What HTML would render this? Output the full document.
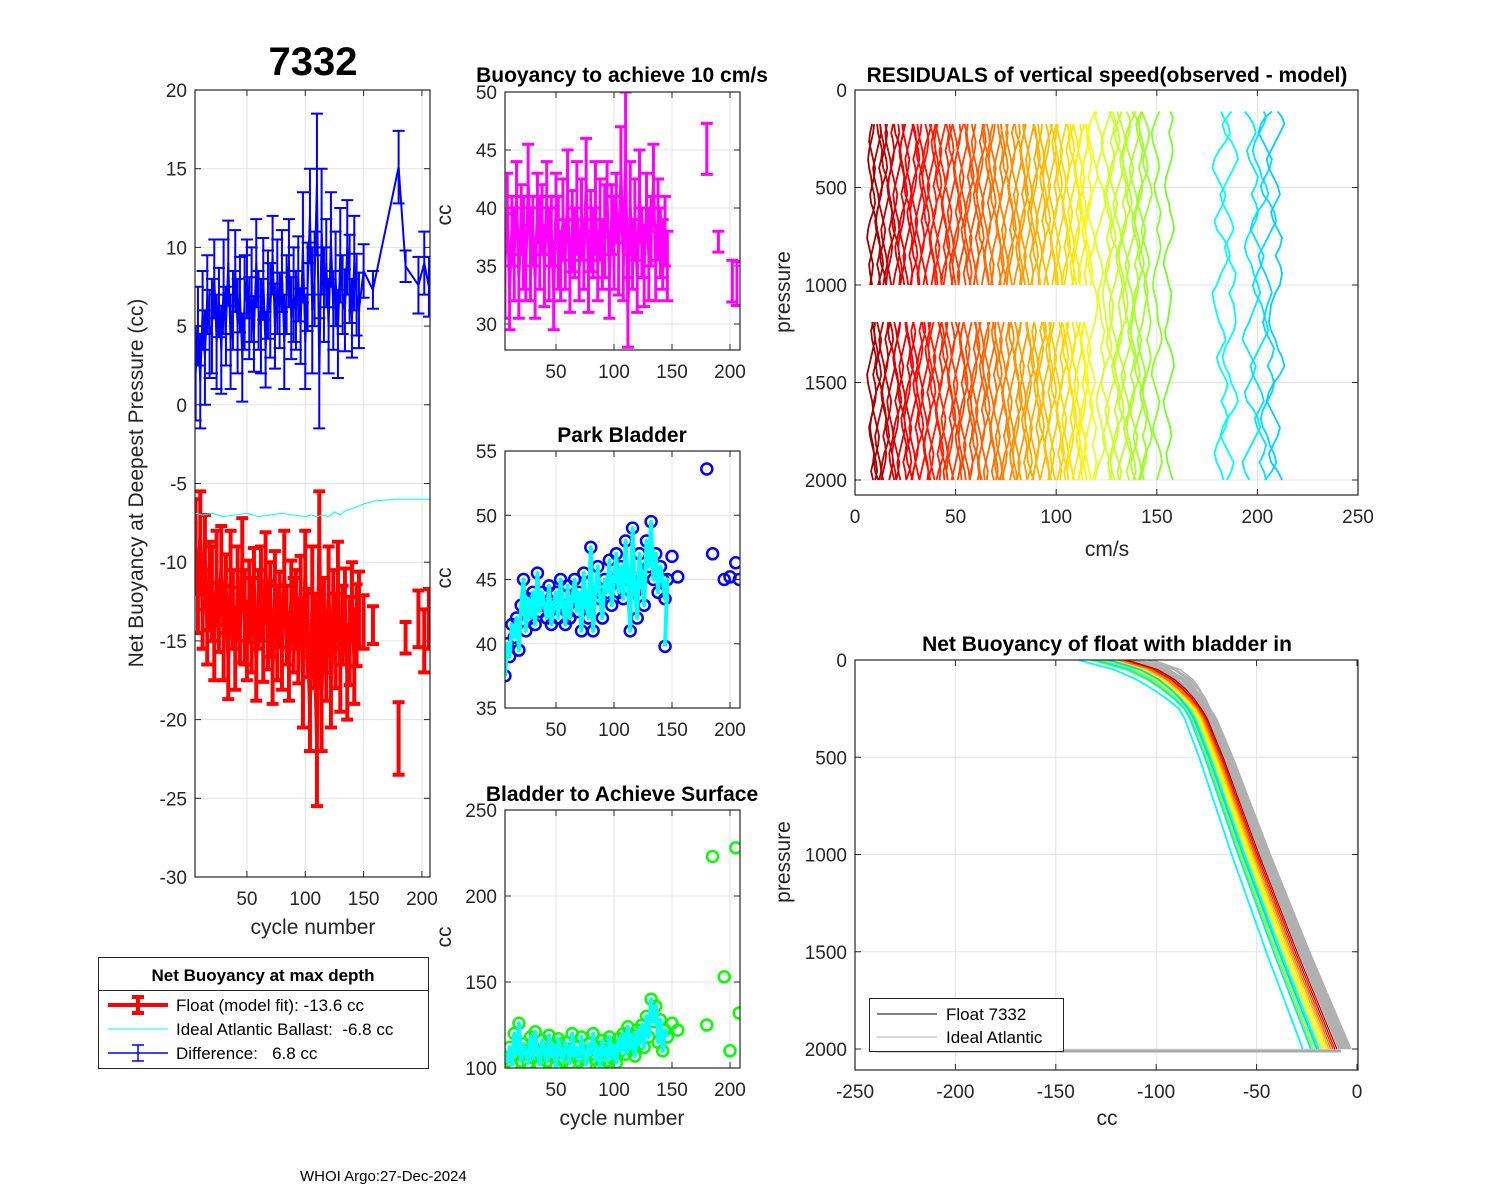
<!DOCTYPE html>
<html><head><meta charset="utf-8"><style>
html,body{margin:0;padding:0;background:#fff;}
svg{display:block;font-family:"Liberation Sans",Arial,sans-serif;}
text{white-space:pre;}
</style></head><body>
<svg id="fig" width="1500" height="1200" viewBox="0 0 1500 1200" xmlns="http://www.w3.org/2000/svg">
<defs>
<clipPath id="c1"><rect x="195" y="90" width="235" height="787"/></clipPath>
<clipPath id="c2"><rect x="505" y="92" width="235" height="258"/></clipPath>
<clipPath id="c3"><rect x="505" y="451" width="235" height="257"/></clipPath>
<clipPath id="c4"><rect x="505" y="810" width="235" height="258"/></clipPath>
<clipPath id="c5"><rect x="855" y="90" width="503" height="405"/></clipPath>
<clipPath id="c6"><rect x="855" y="660" width="503" height="410"/></clipPath>
</defs>
<text x="313" y="75" text-anchor="middle" font-size="40" font-weight="bold">7332</text>
<text x="622" y="82" text-anchor="middle" font-size="21" font-weight="bold">Buoyancy to achieve 10 cm/s</text>
<text x="622" y="442" text-anchor="middle" font-size="21" font-weight="bold">Park Bladder</text>
<text x="622" y="801" text-anchor="middle" font-size="21" font-weight="bold">Bladder to Achieve Surface</text>
<text x="1107" y="82" text-anchor="middle" font-size="21" font-weight="bold">RESIDUALS of vertical speed(observed - model)</text>
<text x="1107" y="651" text-anchor="middle" font-size="21" font-weight="bold">Net Buoyancy of float with bladder in</text>
<text transform="translate(143,483) rotate(-90)" text-anchor="middle" font-size="21" fill="#262626">Net Buoyancy at Deepest Pressure (cc)</text>
<text x="313" y="934" text-anchor="middle" font-size="21" fill="#262626">cycle number</text>
<text transform="translate(451,215) rotate(-90)" text-anchor="middle" font-size="21" fill="#262626">cc</text>
<text transform="translate(451,578) rotate(-90)" text-anchor="middle" font-size="21" fill="#262626">cc</text>
<text transform="translate(451,937) rotate(-90)" text-anchor="middle" font-size="21" fill="#262626">cc</text>
<text x="622" y="1125" text-anchor="middle" font-size="21" fill="#262626">cycle number</text>
<text transform="translate(790,292) rotate(-90)" text-anchor="middle" font-size="21" fill="#262626">pressure</text>
<text x="1107" y="556" text-anchor="middle" font-size="21" fill="#262626">cm/s</text>
<text transform="translate(790,862) rotate(-90)" text-anchor="middle" font-size="21" fill="#262626">pressure</text>
<text x="1107" y="1125" text-anchor="middle" font-size="21" fill="#262626">cc</text>
<text x="300" y="1181" font-size="15">WHOI Argo:27-Dec-2024</text>
<g id="layer"></g>
<g>
<rect x="98.5" y="957.5" width="330" height="111" fill="#fff" stroke="#262626" stroke-width="1"/>
<line x1="98.5" y1="990.5" x2="428.5" y2="990.5" stroke="#262626"/>
<text x="263" y="981" text-anchor="middle" font-size="17" font-weight="bold">Net Buoyancy at max depth</text>
<g><line x1="108" y1="1005" x2="168" y2="1005" stroke="#f00" stroke-width="4"/><line x1="138" y1="997" x2="138" y2="1013" stroke="#f00" stroke-width="4"/><line x1="132" y1="997" x2="144" y2="997" stroke="#f00" stroke-width="4"/><line x1="132" y1="1013" x2="144" y2="1013" stroke="#f00" stroke-width="4"/><text x="176" y="1011" font-size="17">Float (model fit): -13.6 cc</text></g>
<g><line x1="108" y1="1029" x2="168" y2="1029" stroke="#00ffff" stroke-width="1"/><text x="176" y="1035" font-size="17">Ideal Atlantic Ballast:  -6.8 cc</text></g>
<g><line x1="108" y1="1053" x2="168" y2="1053" stroke="#00f" stroke-width="1.5"/><line x1="138" y1="1045" x2="138" y2="1061" stroke="#00f" stroke-width="1.5"/><line x1="132" y1="1045" x2="144" y2="1045" stroke="#00f" stroke-width="1.5"/><line x1="132" y1="1061" x2="144" y2="1061" stroke="#00f" stroke-width="1.5"/><text x="176" y="1059" font-size="17">Difference:   6.8 cc</text></g>
</g>
</svg>
<script>
// ---------- data ----------
const cycles = [6,8,10,12,14,16,18,20,22,24,26,28,30,32,34,36,38,40,42,44,46,48,50,52,54,56,58,60,62,64,66,68,70,72,74,76,78,80,82,84,86,88,90,92,94,96,98,100,102,104,106,108,110,112,114,116,118,120,122,124,126,128,130,132,134,136,138,140,142,144,146];
const floatFit = [-9,-12,-8.5,-13,-10,-14,-11.5,-12,-15,-11,-13.5,-10.5,-14.5,-12,-16,-11,-13,-15.5,-12,-14,-10,-13.5,-15,-12.5,-14,-11.5,-16,-13,-12,-15,-10.5,-14,-13,-16.5,-12,-14.5,-13,-15.5,-11,-14,-16,-12.5,-14,-13,-15,-12,-17,-11,-14.5,-19,-13,-15,-21,-9,-18,-14,-16,-12,-17.5,-13,-15,-11.5,-16.5,-14,-13,-17,-15,-12.5,-16,-14,-13];
const floatErr = [3,2.5,3,2.5,3,2.5,2.8,3,2.5,3,2.2,2.8,3,2.5,2.7,3,2.5,2.6,3,2.4,2.8,3,2.5,2.6,3,2.4,2.8,2.5,3,2.6,2.4,2.8,3,2.5,2.7,3,2.4,2.6,3,2.5,2.8,2.6,3,2.5,2.7,2.4,3.5,3,2.8,3,4,3,4.5,3.5,4,3,2.8,3,3,2.5,3,2.8,3,2.5,2.6,3,2.8,2.5,3,2.6,2.4];
const diffVals = [2,5,1.5,6,3,7,4.5,5,8,4,6.5,3.5,7.5,5,9,4,6,8.5,5,7,3,6.5,8,5.5,7,4.5,9,6,5,8,3.5,7,6,9.5,5,7.5,6,8.5,4,7,9,5.5,7,6,8,5,10,4,7.5,12,6,8,14,2,11,7,9,5,10.5,6,8,4.5,9.5,7,6,10,8,5.5,9,7,6];
const sparseCycles = [150,158,180,186,197,202,206];
const sparseFloat = [-13.8,-14.0,-21.2,-14.8,-13.6,-15.0,-13.6];
const sparseErr = [1.7,1.2,2.3,1.0,1.8,2.0,1.9];
const sparseDiff = [8.5,7.3,15.1,8.8,7.6,9.0,7.5];
const idealCycles = [6,12,20,30,40,50,60,70,80,90,100,105,110,115,120,125,130,135,140,150,160,180,208];
const idealVals = [-6.9,-7.0,-6.9,-7.1,-7.0,-6.9,-7.1,-7.0,-6.9,-7.0,-7.1,-7.0,-7.1,-7.0,-7.1,-6.8,-7.0,-6.7,-6.6,-6.3,-6.1,-6.0,-6.0];

const speedVals = [35,40,33,38,36,41,34,39,37,35,42,36,38,34,40,37,39,35,41,36,38,33,40,37,35,39,36,41,34,38,37,40,35,39,36,42,34,38,37,40,35,39,36,38,41,34,39,37,40,36,43,35,44,31,40,36,39,34,41,37,35,40,36,38,42,35,39,37,36,38,35];
const speedErr = [4.5,3,3.5,3,4,3,3.5,3,4,3,3.5,4,3,3.5,3,4,3,3.5,3,4,3,3.5,3,4,3,3.5,3,4,3,3.5,3,4,3,3.5,3,4,3,3.5,3,4,3,3.5,3,4,3,3.5,3,4,3,3.5,4,3,6,3,4,3,3.5,3,4,3,3.5,3,4,3,3.5,3,3.5,3,3,3,3];
const speedSparseCycles = [180,190,202,206];
const speedSparse = [45.1,37.1,33.7,33.5];
const speedSparseErr = [2.2,0.9,1.8,1.9];

const parkVals = [37.5,40,39,41.5,40.5,42,39.5,43,45,41,43.5,42,44,41.5,45.5,42.5,44,43,42,44.5,41.5,43,44,42,45,43,41.5,44.5,42,43.5,45,42.5,44,41,45.5,43,42,47.5,41,44,46,43.5,42,45,44,46.5,43,45,47,44,46,43.5,48,45,41,49,44,42,47,45,43,48,46,49.5,45,47,44,46,45,43.5,45];
const parkSparseCycles = [144,150,155,180,185,195,200,205,208];
const parkSparse = [39.8,46.8,45.2,53.6,47.0,45.0,45.2,46.3,45.0];

const surfVals = [106,104,112,102,120,108,126,104,114,110,103,118,106,121,109,102,116,111,104,119,107,113,101,117,109,104,115,111,103,120,107,112,104,118,110,102,114,108,120,105,112,101,116,109,104,118,106,113,103,117,110,120,108,124,111,119,107,122,114,125,112,130,118,140,127,136,115,128,110,122,118];
const surfSparseCycles = [150,155,180,185,195,200,205,208];
const surfSparse = [126,122,125,223,153,110,228,132];

const resCycles = [8,9,11,12,14,15,17,18,20,21,23,24,26,27,29,30,32,33,35,36,38,39,41,42,44,45,47,48,50,51,53,54,56,57,59,60,62,63,65,66,68,69,71,72,74,75,77,78,80,81,83,84,86,87,89,90,92,93,95,96,98,99,101,102,104,105,107,108,110,111,113,114,116,118,122,125,127,129,131,133,135,137,139,141,143,145,150,156,182,186,197,201,205,209];
const resWiggle = [0,1,1.5,1,0,-1,-1.5,-1,0,0.5,1.5,2,1,-0.5,-1.5,-2,-1,0,1,0.5,-0.5,-1.5,-1,0.5,1.5,2,1,0,-1,-2,-1.5,-0.5,0.5,1,0,-1,-0.5,0.5,1.5,1];
const resDepths = [110,140,175,220,265,310,355,400,445,490,535,580,625,670,715,760,805,850,895,940,1000,1040,1100,1190,1235,1280,1325,1370,1415,1460,1505,1550,1595,1640,1685,1730,1775,1820,1865,1910,1955,2000];

const nbDepth = [0,50,100,150,200,250,300,500,750,1000,1500,2000];
const nbBase = [-112,-97,-89,-84,-80,-77,-74,-66,-57,-48,-29,-9];
const grayOffsets = [0,1,2,3,4,5,6,1.5,2.5,3.5,4.5,5.5,0.5,1,2,3,4,5,2,3];
const grayTop = [3,-3,6,0,8,-6,4,-2,2,-4,5,0,7,-5,3,-1,1,-3,6,2];
const colorCycles = [10,20,30,40,50,60,70,80,90,100,108,112,115,118,120,122,124,126,128,130,133,136,139,142,146,150,156,182,186,197,206];
const colorOffsets = [-1,-2,-2,-3,-3,-4,-4,-5,-5,-6,-6,-7,-7,-8,-8,-9,-9,-10,-9,-11,-10,-12,-11,-13,-12,-14,-13,-18,-10,-14,-11];
const colorTop = [-2,-4,-3,-5,-4,-6,-4,-6,-8,-5,-9,-6,-10,-12,-8,-13,-10,-14,-9,-12,-15,-10,-13,-9,-14,-12,-8,-16,-6,-10,-5];

// ---------- helpers ----------
const NS = 'http://www.w3.org/2000/svg';
const layer = document.getElementById('layer');
function mk(tag, attrs, parent) {
  const e = document.createElementNS(NS, tag);
  for (const k in attrs) e.setAttribute(k, attrs[k]);
  (parent || layer).appendChild(e);
  return e;
}
function colormap(c) {
  let h, l;
  if (c <= 30) { h = 0; l = 30 + (c - 8) * 0.9; }
  else if (c <= 117) { h = (c - 30) / 87 * 60; l = 50; }
  else if (c <= 160) { h = 65 + (c - 117) / 40 * 35; l = 58; }
  else { h = 175 + (c - 180) / 30 * 17; l = 50; }
  return 'hsl(' + h.toFixed(1) + ',100%,' + l.toFixed(1) + '%)';
}
function axes(name, x0, y0, x1, y1, xt, yt, xs, ys, xlab, ylab) {
  const g = mk('g', {});
  
  
  mk('rect', {x: x0, y: y0, width: x1 - x0, height: y1 - y0, fill: '#fff'}, g);
  xt.forEach((t, i) => {
    const X = xs(t);
    mk('line', {x1: X, y1: y0, x2: X, y2: y1, stroke: '#e3e3e3', 'stroke-width': 1}, g);
    mk('line', {x1: X, y1: y1, x2: X, y2: y1 - 6, stroke: '#262626'}, g);
    mk('line', {x1: X, y1: y0, x2: X, y2: y0 + 6, stroke: '#262626'}, g);
    const tx = mk('text', {x: X, y: y1 + 28, 'text-anchor': 'middle', 'font-size': 19, fill: '#262626'}, g);
    
    
    tx.textContent = xlab[i];
  });
  yt.forEach((t, i) => {
    const Y = ys(t);
    mk('line', {x1: x0, y1: Y, x2: x1, y2: Y, stroke: '#e3e3e3', 'stroke-width': 1}, g);
    mk('line', {x1: x0, y1: Y, x2: x0 + 6, y2: Y, stroke: '#262626'}, g);
    mk('line', {x1: x1, y1: Y, x2: x1 - 6, y2: Y, stroke: '#262626'}, g);
    const tx = mk('text', {x: x0 - 8, y: Y + 7, 'text-anchor': 'end', 'font-size': 19, fill: '#262626'}, g);
    
    
    tx.textContent = ylab[i];
  });
  return g;
}
function frame(x0, y0, x1, y1) {
  mk('rect', {x: x0, y: y0, width: x1 - x0, height: y1 - y0, fill: 'none', stroke: '#262626', 'stroke-width': 1.2});
}
function errbars(g, xsArr, vals, errs, xs, ys, color, w, cap) {
  xsArr.forEach((c, i) => {
    const X = xs(c), Yt = ys(vals[i] + errs[i]), Yb = ys(vals[i] - errs[i]);
    const eb = mk('path', {d: 'M' + X + ' ' + Yt + 'V' + Yb + 'M' + (X - cap) + ' ' + Yt + 'H' + (X + cap) + 'M' + (X - cap) + ' ' + Yb + 'H' + (X + cap), stroke: color, 'stroke-width': w, fill: 'none'}, g);
    
    
  });
}
function poly(g, xsArr, vals, xs, ys, color, w) {
  const d = xsArr.map((c, i) => (i ? 'L' : 'M') + xs(c).toFixed(1) + ' ' + ys(vals[i]).toFixed(1)).join('');
  return mk('path', {d: d, stroke: color, 'stroke-width': w, fill: 'none', 'stroke-linejoin': 'round'}, g);
}

// ---------- panel 1 ----------
const x1s = c => 188.6 + c * 1.1667;
const y1s = v => 90 + (20 - v) * 15.74;
axes('net-buoyancy', 195, 90, 430, 877, [50, 100, 150, 200], [20, 15, 10, 5, 0, -5, -10, -15, -20, -25, -30], x1s, y1s, ['50', '100', '150', '200'], ['20', '15', '10', '5', '0', '-5', '-10', '-15', '-20', '-25', '-30']);
{
  const g = mk('g', {'clip-path': 'url(#c1)'});
  
  
  const allC = cycles.concat(sparseCycles);
  const allF = floatFit.concat(sparseFloat);
  const allE = floatErr.concat(sparseErr);
  const allD = diffVals.concat(sparseDiff);
  const fl = poly(g, cycles, floatFit, x1s, y1s, '#ff0000', 4);
  
  
  errbars(g, allC, allF, allE, x1s, y1s, '#ff0000', 4, 6);
  const il = poly(g, idealCycles, idealVals, x1s, y1s, '#00ffff', 1);
  
  
  const dl = poly(g, allC, allD, x1s, y1s, '#0000ff', 2);
  
  
  errbars(g, allC, allD, allE, x1s, y1s, '#0000ff', 2, 6);
}
frame(195, 90, 430, 877);

// ---------- panel 2 ----------
const xs2 = c => 498 + c * 1.16;
const y2s = v => 92 + (50 - v) * 11.6;
axes('buoyancy-10cms', 505, 92, 740, 350, [50, 100, 150, 200], [50, 45, 40, 35, 30], xs2, y2s, ['50', '100', '150', '200'], ['50', '45', '40', '35', '30']);
{
  const g = mk('g', {'clip-path': 'url(#c2)'});
  
  
  const l = poly(g, cycles, speedVals, xs2, y2s, '#ff00ff', 3);
  
  
  errbars(g, cycles, speedVals, speedErr, xs2, y2s, '#ff00ff', 3, 6);
  errbars(g, speedSparseCycles, speedSparse, speedSparseErr, xs2, y2s, '#ff00ff', 3, 6);
}
frame(505, 92, 740, 350);

// ---------- panel 3 ----------
const y3s = v => 451 + (55 - v) * 12.85;
axes('park-bladder', 505, 451, 740, 708, [50, 100, 150, 200], [55, 50, 45, 40, 35], xs2, y3s, ['50', '100', '150', '200'], ['55', '50', '45', '40', '35']);
{
  const g = mk('g', {'clip-path': 'url(#c3)'});
  
  
  const allC = cycles.concat(parkSparseCycles), allV = parkVals.concat(parkSparse);
  allC.forEach((c, i) => {
    const m = mk('circle', {cx: xs2(c), cy: y3s(allV[i]), r: 5.5, fill: 'none', stroke: '#0000ff', 'stroke-width': 2.5}, g);
    
    
  });
  const l = poly(g, cycles.concat([144]), parkVals.concat([39.8]), xs2, y3s, '#00ffff', 4);
  
  
}
frame(505, 451, 740, 708);

// ---------- panel 4 ----------
const y4s = v => 810 + (250 - v) * 1.72;
axes('bladder-surface', 505, 810, 740, 1068, [50, 100, 150, 200], [250, 200, 150, 100], xs2, y4s, ['50', '100', '150', '200'], ['250', '200', '150', '100']);
{
  const g = mk('g', {'clip-path': 'url(#c4)'});
  
  
  const allC = cycles.concat(surfSparseCycles), allV = surfVals.concat(surfSparse);
  allC.forEach((c, i) => {
    const m = mk('circle', {cx: xs2(c), cy: y4s(allV[i]), r: 5.5, fill: 'none', stroke: '#00ff00', 'stroke-width': 2.5}, g);
    
    
  });
  const l = poly(g, cycles, surfVals, xs2, y4s, '#00ffff', 4);
  
  
}
frame(505, 810, 740, 1068);

// ---------- panel 5 ----------
const x5s = v => 855 + v * 2.012;
const y5s = p => 90 + p * 0.195;
axes('residuals', 855, 90, 1358, 495, [0, 50, 100, 150, 200, 250], [0, 500, 1000, 1500, 2000], x5s, y5s, ['0', '50', '100', '150', '200', '250'], ['0', '500', '1000', '1500', '2000']);
{
  const g = mk('g', {'clip-path': 'url(#c5)'});
  
  
  resCycles.forEach((c, i) => {
    const amp = c > 170 ? 2.2 : (c > 117 ? 1.3 : 1.0);
    const early = c < 118;
    let d = '', pen = false;
    resDepths.forEach((p, k) => {
      if (early && p < 170) { pen = false; return; }
      if (early && p > 1000 && p < 1190) { pen = false; return; }
      if (!early && p > 1000 && p < 1040) { pen = false; return; }
      const X = x5s(c + resWiggle[(k + i * 11) % resWiggle.length] * amp);
      d += (pen ? 'L' : 'M') + X.toFixed(1) + ' ' + y5s(p).toFixed(1);
      pen = true;
    });
    const pr = mk('path', {d: d, stroke: colormap(c), 'stroke-width': 1.8, fill: 'none', 'stroke-linejoin': 'round'}, g);
    
    
  });
}
frame(855, 90, 1358, 495);

// ---------- panel 6 ----------
const x6s = v => 1357 + v * 2.008;
const y6s = p => 660 + p * 0.1945;
axes('net-buoyancy-profile', 855, 660, 1358, 1070, [-250, -200, -150, -100, -50, 0], [0, 500, 1000, 1500, 2000], x6s, y6s, ['-250', '-200', '-150', '-100', '-50', '0'], ['0', '500', '1000', '1500', '2000']);
{
  const g = mk('g', {'clip-path': 'url(#c6)'});
  
  
  function prof(off, top, color, w) {
    const d = nbDepth.map((p, k) => {
      const t = k <= 5 ? top * (5 - k) / 5 : 0;
      const sc = 0.6 + 0.4 * p / 2000;
      return (k ? 'L' : 'M') + x6s(nbBase[k] + off * sc + t).toFixed(1) + ' ' + y6s(p).toFixed(1);
    }).join('');
    return mk('path', {d: d, stroke: color, 'stroke-width': w, fill: 'none'}, g);
  }
  const hl = mk('line', {x1: x6s(-240), y1: y6s(2010), x2: x6s(-8), y2: y6s(2010), stroke: '#aaaaaa', 'stroke-width': 3}, g);
  
  
  grayOffsets.forEach((o, i) => {
    const p = prof(o, grayTop[i], '#b0b0b0', 1.5);
    
    
  });
  colorCycles.forEach((c, i) => {
    const p = prof(colorOffsets[i], colorTop[i], colormap(c), c > 170 ? 1.8 : 1.2);
    
    
  });
}
frame(855, 660, 1358, 1070);
{
  const g = mk('g', {});
  
  
  mk('rect', {x: 869.5, y: 998.5, width: 194, height: 53, fill: '#fff', stroke: '#262626'}, g);
  mk('line', {x1: 877, y1: 1014, x2: 937, y2: 1014, stroke: '#000', 'stroke-width': 1}, g);
  mk('line', {x1: 877, y1: 1037, x2: 937, y2: 1037, stroke: '#b0b0b0', 'stroke-width': 1}, g);
  const t1 = mk('text', {x: 946, y: 1020, 'font-size': 17}, g);
  
  
  t1.textContent = 'Float 7332';
  const t2 = mk('text', {x: 946, y: 1043, 'font-size': 17}, g);
  
  
  t2.textContent = 'Ideal Atlantic';
}
</script>
</body></html>
